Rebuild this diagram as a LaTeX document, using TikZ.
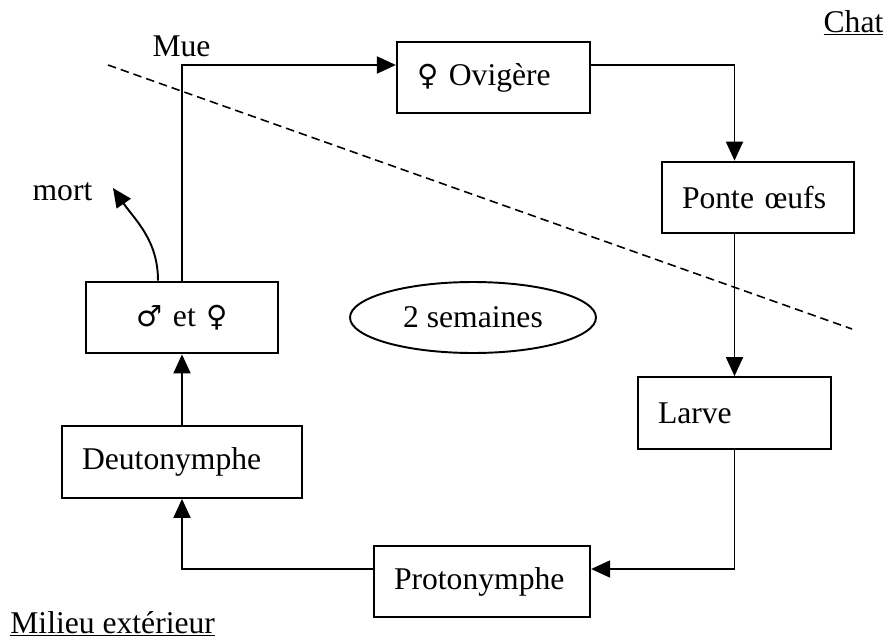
\documentclass[tikz,border=0pt]{standalone}
\usepackage{fontspec}
\setmainfont{Liberation Serif}
\newfontfamily\symboles[Scale=0.92]{DejaVu Sans}
\usetikzlibrary{arrows.meta,shapes.geometric}
\newcommand{\symfemelle}{{\symboles\char"2640}}
\newcommand{\symmale}{{\symboles\char"2642}}
\tikzset{
	boite/.style={draw, line width=1.3pt, minimum height=1.43cm, inner xsep=0.4cm, inner ysep=0pt, align=left},
	fleche/.style={line width=1.1pt, -{Triangle[length=0.38cm,width=0.34cm]}},
}

\begin{document}
\begin{tikzpicture}[x=0.02cm, y=-0.02cm, font=\fontsize{18}{21}\selectfont]
		%%%%% START %%%%%
		\useasboundingbox (0,0) rectangle (888,639);
		
		\draw[line width=0.9pt, dash pattern=on 0.17cm off 0.1cm] (108,65) -- (852,329);
		
		\node[boite, text width=3.06cm] (ovig) at (493.5,77.5) {\symfemelle{} Ovigère};
		\node[boite, text width=3.04cm] (ponte) at (758,197.5) {Ponte œufs};
		\node[boite, text width=3.06cm] (larve) at (734.5,413) {Larve};
		\node[boite, text width=3.52cm] (proto) at (482,581.5) {Protonymphe};
		\node[boite, text width=4.0cm] (deuto) at (182,462) {Deutonymphe};
		\node[boite, text width=3.04cm, align=center] (adultes) at (182,317.5) {\symmale{} et \symfemelle};
		
		\node[draw, ellipse, line width=1.1pt, inner sep=0pt, minimum width=4.92cm, minimum height=1.42cm] (duree) at (473,317.5) {2 semaines};
		
		\node[anchor=base] (mue) at (181.5,56) {Mue};
		\node[anchor=base] (mort) at (62.5,200) {mort};
		\node[anchor=base] (chat) at (853.5,32) {\underline{Chat}};
		\node[anchor=base west, inner sep=0pt] (milieu) at (10,633) {\underline{Milieu extérieur}};
		
		\coordinate (coude) at (182,65);
		\coordinate (bas) at (182,569);
		\coordinate (fin) at (113,188);
		
		\draw[fleche] (adultes.north) -- (coude) -- (coude -| ovig.west);
		\draw[fleche] (coude -| ovig.east) -| (larve.north |- ponte.north);
		\draw[fleche] (larve.north |- ponte.south) -- (larve.north);
		\draw[fleche] (larve.south) |- (bas -| proto.east);
		\draw[fleche] (bas -| proto.west) -| (deuto.south);
		\draw[fleche] (deuto.north) -- (adultes.south);
		\draw[fleche] ([xshift=-0.48cm]adultes.north) .. controls (158,240) and (135,220) .. (fin);
		
		%%%%% END %%%%%
	\end{tikzpicture}
\end{document}
